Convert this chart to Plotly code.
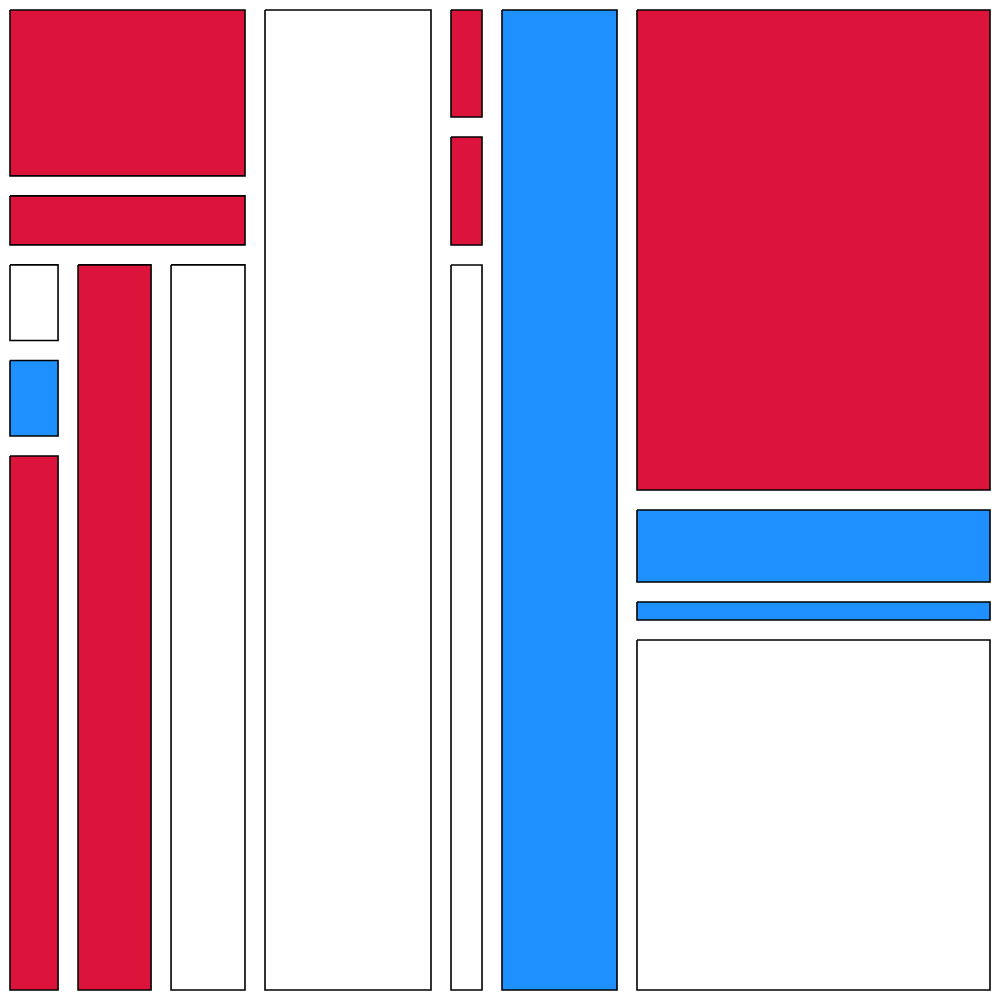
import plotly.graph_objects as go

# Hierarchical mosaic data (treemap-style: ids, parents, leaf values, colours)
ids = ["A", "A1", "A2", "AL", "AL1", "AL1a", "AL1b", "AL1c", "AL2", "AL3",
       "B",
       "C", "C1", "C2", "C3",
       "D",
       "E", "E1", "E2", "E3", "E4"]
parents = ["", "A", "A", "A", "AL", "AL1", "AL1", "AL1", "AL", "AL",
           "",
           "", "C", "C", "C",
           "",
           "", "E", "E", "E", "E"]
values = [0, 47.4, 17.6, 0, 0, 6.5, 6.5, 37.7, 69.3, 70.0,
          186.0,
          0, 6.48, 6.53, 38.0,
          135.0,
          0, 186.5, 34.3, 14.2, 138.0]
fills = ["", "crimson", "crimson", "", "", "white", "dodgerblue", "crimson", "crimson", "white",
         "white",
         "", "crimson", "crimson", "white",
         "dodgerblue",
         "", "crimson", "dodgerblue", "dodgerblue", "white"]

SIZE = 1000
PAD = 20

children = {}
for i, p in enumerate(parents):
    children.setdefault(p, []).append(i)


def total(i):
    kids = children.get(ids[i], [])
    if not kids:
        return values[i]
    return sum(total(k) for k in kids)


rects = []


def tile(parent_id, x0, y0, x1, y1, depth):
    kids = children.get(parent_id, [])
    s = sum(total(k) for k in kids)
    pos = x0 if depth % 2 == 0 else y0
    for k in kids:
        frac = total(k) / s
        if depth % 2 == 0:
            w = (x1 - x0) * frac
            r = (pos, y0, pos + w, y1)
        else:
            h = (y1 - y0) * frac
            r = (x0, pos, x1, pos + h)
        pos = r[2] if depth % 2 == 0 else r[3]
        if children.get(ids[k]):
            tile(ids[k], *r, depth + 1)
        else:
            rects.append((r, fills[k]))


tile("", 0, 0, SIZE, SIZE, 0)

fig = go.Figure()
h = PAD / 2
for (x0, y0, x1, y1), col in rects:
    a, b, c, d = x0 + h, y0 + h, x1 - h, y1 - h
    fig.add_trace(go.Scatter(
        x=[a, c, c, a, a], y=[b, b, d, d, b],
        mode="lines", fill="toself", fillcolor=col,
        line=dict(color="black", width=1.6),
        hoverinfo="skip", showlegend=False))

fig.update_layout(
    width=1000, height=1000,
    margin=dict(l=0, r=0, t=0, b=0),
    paper_bgcolor="white", plot_bgcolor="white",
    xaxis=dict(range=[0, SIZE], visible=False, fixedrange=True),
    yaxis=dict(range=[SIZE, 0], visible=False, fixedrange=True),
)
fig.write_html(
    "out.html",
    config={"displayModeBar": False},
    post_script="document.body.style.margin='0';document.body.style.overflow='hidden';",
)
